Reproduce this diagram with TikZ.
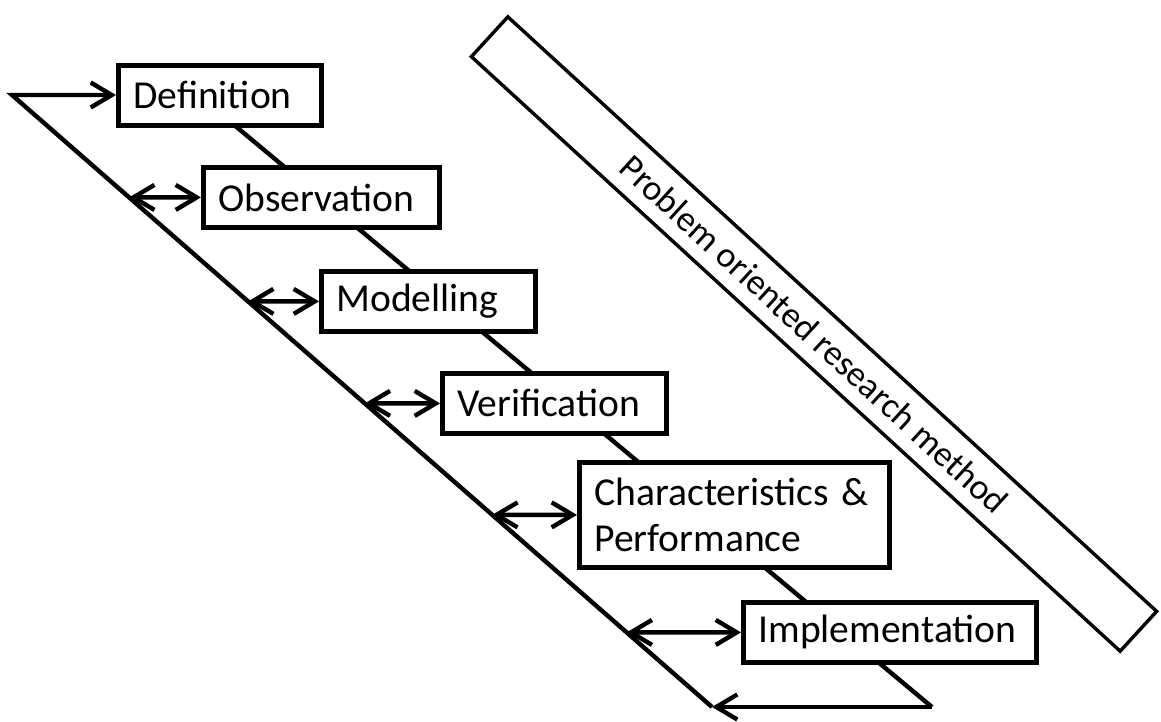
\documentclass[tikz,border=0pt]{standalone}
\usepackage{fontspec}
\setmainfont{Carlito}
\usepackage{tikz}
\usetikzlibrary{arrows.meta, positioning}

\begin{document}
\begin{tikzpicture}[
        x=0.5pt, y=-0.5pt,
        box/.style={draw=black, line width=2.4pt, fill=white, anchor=north west, align=left, inner xsep=7.5pt, inner ysep=0pt, minimum height=30pt, font=\fontsize{19.8}{23}\selectfont},
        line/.style={line width=2.2pt},
        arrow/.style={line width=2.2pt, -{Straight Barb[length=10.5pt, width=12.5pt]}},
        dblarrow/.style={line width=2.2pt, {Straight Barb[length=10.5pt, width=12.5pt]}-{Straight Barb[length=10.5pt, width=12.5pt]}},
        band/.style={draw=black, line width=1.7pt, minimum width=440pt, minimum height=27pt, rotate=-42.5, font=\fontsize{17.9}{21}\selectfont}
    ]
        \useasboundingbox (0,0) rectangle (1161,722);
        \coordinate (top) at (197,94);
        \coordinate (tl) at (12,95);
        \coordinate (bl) at (712,707);
        \coordinate (br) at (932,707);
        \draw[line] (top) -- (br);

        \node[box, text width=86.5pt] (def) at (116,63) {Definition};
        \node[box, text width=103pt] (obs) at (201,165) {Observation};
        \node[box, text width=92pt] (mod) at (319,269) {Modelling};
        \node[box, text width=97pt] (ver) at (440,371) {Verification};
        \node[box, text width=140pt, minimum height=52.5pt] (char) at (577,460) {Characteristics \&\\Performance};
        \node[box, text width=131.5pt] (impl) at (741,600) {Implementation};

        \node[band] (pm) at (814,334) {Problem oriented research method};

        \draw[arrow] (br) -- (bl);
        \draw[arrow] (bl) -- (tl) -- (tl -| def.west);
        \foreach \n in {obs, mod, ver, char, impl}
            \draw[dblarrow] (intersection of tl--bl and \n.west--\n.east) -- (\n.west);
    \end{tikzpicture}
\end{document}
